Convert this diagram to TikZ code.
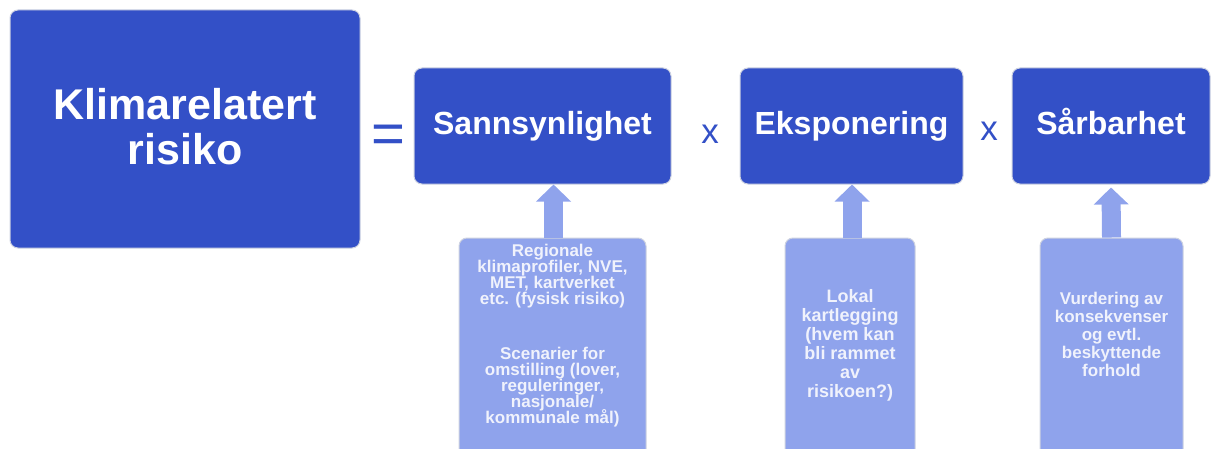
\documentclass[tikz,border=0pt]{standalone}
\usepackage{fontspec}
\setmainfont{Liberation Sans}
\usetikzlibrary{arrows.meta,calc}
\definecolor{darkblue}{RGB}{51,80,199}
\definecolor{lightblue}{RGB}{143,163,236}
\definecolor{paletext}{RGB}{240,242,252}
\definecolor{edgegrey}{RGB}{205,210,225}
\newcommand\mytightlines{\lineskiplimit=-20pt\relax}
\tikzset{
  darkbox/.style={fill=darkblue, draw=edgegrey, line width=1pt, rounded corners=8pt, inner sep=0pt},
  lightbox/.style={fill=lightblue, draw=edgegrey, line width=1pt, rounded corners=8pt, inner sep=0pt},
  titletext/.style={text=white, font=\bfseries\fontsize{32}{38}\selectfont, text height=23pt, text depth=7pt, inner sep=0pt},
  infotext/.style={text=paletext, font=\bfseries\fontsize{17}{16}\selectfont\mytightlines, align=center, inner sep=0pt},
  optext/.style={text=darkblue, inner sep=0pt},
  uparrow/.style={draw=lightblue, line width=19pt, -{Triangle[length=17pt,width=34pt]}, shorten >=-1pt}
}
\begin{document}
\begin{tikzpicture}[x=1pt,y=1pt]
\useasboundingbox (0,0) rectangle (1214,448);
% big box
\node[darkbox, minimum width=350pt, minimum height=238pt] (big) at (185,319) {};
\node[text=white, font=\bfseries\fontsize{43}{45}\selectfont, align=center, inner sep=0pt] (bigt) at (185,321) {Klimarelatert\\risiko};
% title boxes
\node[darkbox, minimum width=257pt, minimum height=116pt] (s) at (542.5,322) {};
\node[titletext] (st) at (s.center) {Sannsynlighet};
\node[darkbox, minimum width=223pt, minimum height=116pt] (e) at (851.5,322) {};
\node[titletext] (et) at (e.center) {Eksponering};
\node[darkbox, minimum width=198pt, minimum height=116pt] (b) at (1111,322) {};
\node[titletext] (bt) at (b.center) {Sårbarhet};
% operators
\node[optext, font=\fontsize{58}{58}\selectfont] (eq) at (388,309) {=};
\node[optext, font=\fontsize{35}{35}\selectfont] (x1) at (710,314) {x};
\node[optext, font=\fontsize{35}{35}\selectfont] (x2) at (989,317) {x};
% lower boxes
\node[lightbox, minimum width=187pt, minimum height=226pt] (l1) at (552.5,97) {};
\node[infotext] (l1t) at (552.5,112.5) {Regionale\\klimaprofiler, NVE,\\MET, kartverket\\etc. (fysisk risiko)\\[39pt]Scenarier for\\omstilling (lover,\\reguleringer,\\nasjonale/\\kommunale mål)};
\node[lightbox, minimum width=130pt, minimum height=222pt] (l2) at (850,99) {};
\node[infotext, font=\bfseries\fontsize{18}{19}\selectfont] (l2t) at (850,103) {Lokal\\kartlegging\\(hvem kan\\bli rammet\\av\\risikoen?)};
\node[lightbox, minimum width=143pt, minimum height=222pt] (l3) at (1111.5,99) {};
\node[infotext, font=\bfseries\fontsize{17}{18}\selectfont] (l3t) at (1111.5,114) {Vurdering av\\konsekvenser\\og evtl.\\beskyttende\\forhold};
% arrows
\draw[uparrow] ($(l1.north)+(1,0)$) -- ($(s.south)+(11,-1)$);
\draw[uparrow] ($(l2.north)+(2,0)$) -- ($(e.south)+(0.5,-1)$);
\draw[uparrow] ($(l3.north)+(0,0)$) -- ($(b.south)+(0,-4)$);
\end{tikzpicture}
\end{document}
